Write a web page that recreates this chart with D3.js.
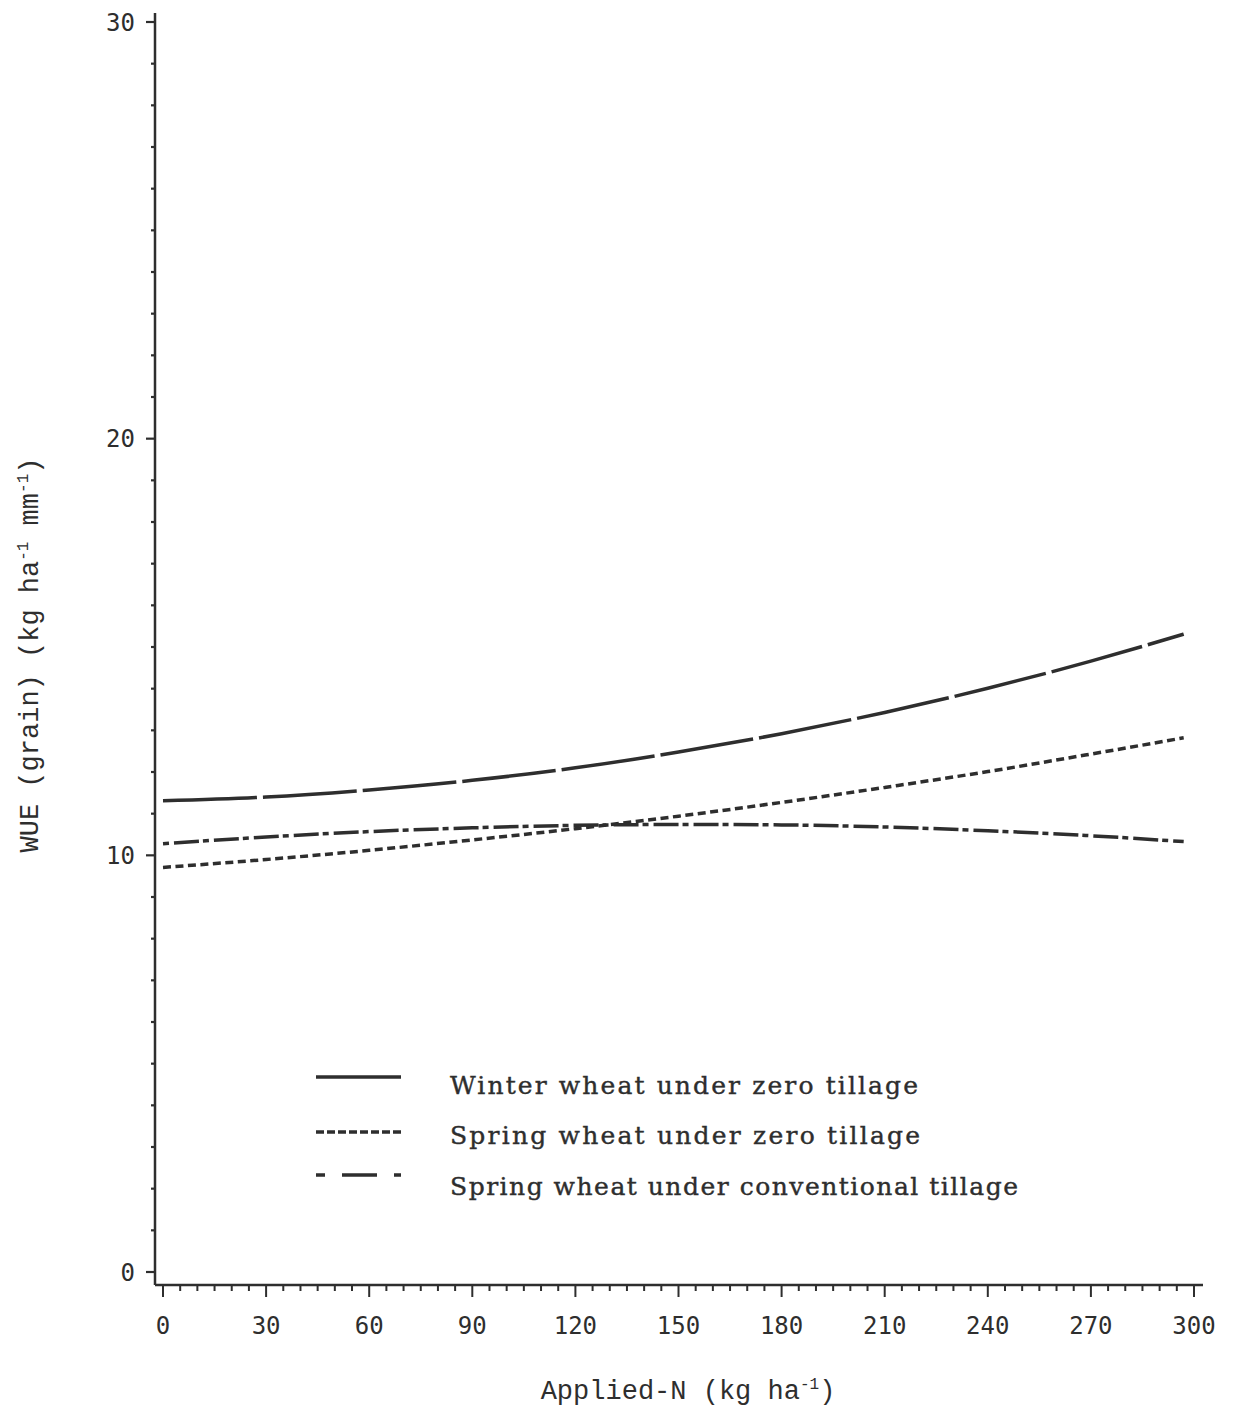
<!DOCTYPE html>
<html>
<head>
<meta charset="utf-8">
<script src="https://cdn.jsdelivr.net/npm/d3@7/dist/d3.min.js"></script>
<style>
  html, body { margin: 0; padding: 0; background: #fff; }
  svg { display: block; }
</style>
</head>
<body>
<svg id="chart" width="1233" height="1406"></svg>
<script>
// ---- data ----
const appliedN = [0, 30, 60, 90, 120, 150, 180, 210, 240, 270, 297];
const winterZero = [11.31, 11.40, 11.57, 11.80, 12.10, 12.48, 12.92, 13.43, 14.01, 14.66, 15.31];
const springZero = [9.71, 9.90, 10.12, 10.37, 10.64, 10.94, 11.27, 11.63, 12.01, 12.43, 12.82];
const springConv = [10.28, 10.44, 10.57, 10.66, 10.72, 10.74, 10.73, 10.68, 10.59, 10.47, 10.33];
const xTicks = [0, 30, 60, 90, 120, 150, 180, 210, 240, 270, 300];
const xTickLabels = ["0", "30", "60", "90", "120", "150", "180", "210", "240", "270", "300"];
const yTicks = [0, 10, 20, 30];
const yTickLabels = ["0", "10", "20", "30"];
const legendLabels = [
  "Winter wheat under zero tillage",
  "Spring wheat under zero tillage",
  "Spring wheat under conventional tillage"
];

const svg = d3.select("#chart");
const ink = "#2e2e2e";

const x = d3.scaleLinear().domain([0, 300]).range([163, 1194]);
const y = d3.scaleLinear().domain([0, 30]).range([1272, 22]);

// ---- axes ----
const axisX = 155, axisY = 1285;
svg.append("line").attr("x1", axisX).attr("x2", axisX).attr("y1", 13).attr("y2", axisY)
  .attr("stroke", ink).attr("stroke-width", 2.5);
svg.append("line").attr("x1", axisX).attr("x2", 1203).attr("y1", axisY).attr("y2", axisY)
  .attr("stroke", ink).attr("stroke-width", 2.5);

// y ticks (minor every 1, major every 10)
const yMinor = d3.range(0, 31, 1);
svg.append("g").selectAll("line").data(yMinor).join("line")
  .attr("x1", axisX).attr("x2", d => yTicks.includes(d) ? axisX - 9 : axisX - 4)
  .attr("y1", d => y(d)).attr("y2", d => y(d))
  .attr("stroke", ink).attr("stroke-width", 2.2);
svg.append("g").selectAll("text").data(yTicks).join("text")
  .attr("x", 135).attr("y", d => y(d)).attr("dy", "0.36em")
  .attr("text-anchor", "end")
  .attr("font-family", "DejaVu Sans Mono").attr("font-size", 24).attr("fill", ink)
  .text((d, i) => yTickLabels[i]);

// x ticks (minor every 5, major every 30)
const xMinor = d3.range(0, 301, 5);
svg.append("g").selectAll("line").data(xMinor).join("line")
  .attr("x1", d => x(d)).attr("x2", d => x(d))
  .attr("y1", axisY).attr("y2", d => xTicks.includes(d) ? axisY + 12 : axisY + 6)
  .attr("stroke", ink).attr("stroke-width", 2);
svg.append("g").selectAll("text").data(xTicks).join("text")
  .attr("x", d => x(d)).attr("y", 1334)
  .attr("text-anchor", "middle")
  .attr("font-family", "DejaVu Sans Mono").attr("font-size", 24).attr("fill", ink)
  .text((d, i) => xTickLabels[i]);

// axis titles
const xt = svg.append("text").attr("x", 688).attr("y", 1399).attr("text-anchor", "middle")
  .attr("font-family", "Liberation Mono").attr("font-size", 27).attr("fill", ink);
xt.append("tspan").text("Applied-N (kg ha");
xt.append("tspan").attr("font-size", 16).attr("dy", -10).text("-1");
xt.append("tspan").attr("dy", 10).text(")");

const yt = svg.append("text").attr("transform", "translate(38,655) rotate(-90)")
  .attr("text-anchor", "middle")
  .attr("font-family", "Liberation Mono").attr("font-size", 27).attr("fill", ink);
yt.append("tspan").text("WUE (grain) (kg ha");
yt.append("tspan").attr("font-size", 16).attr("dy", -10).text("-1");
yt.append("tspan").attr("dy", 10).text(" mm");
yt.append("tspan").attr("font-size", 16).attr("dy", -10).text("-1");
yt.append("tspan").attr("dy", 10).text(")");

// ---- series ----
const series = [
  { values: winterZero, dash: "94,6" },
  { values: springZero, dash: "8,4.5" },
  { values: springConv, dash: "6,5,25,4" }
];
const line = d3.line().x(d => x(d[0])).y(d => y(d[1])).curve(d3.curveMonotoneX);
series.forEach(s => {
  svg.append("path")
    .datum(appliedN.map((n, i) => [n, s.values[i]]))
    .attr("d", line)
    .attr("fill", "none").attr("stroke", ink).attr("stroke-width", 3.5)
    .attr("stroke-dasharray", s.dash);
});

// ---- legend ----
const legendDash = ["none", "8,3", "9,17,35,17,9"];
const legendLineY = [1077, 1132, 1175];
const legendTextY = [1094, 1144, 1195];
const legendTextLen = [468, 470, 568];
legendLabels.forEach((lab, i) => {
  svg.append("line").attr("x1", 316).attr("x2", 401)
    .attr("y1", legendLineY[i]).attr("y2", legendLineY[i])
    .attr("stroke", ink).attr("stroke-width", 3.5)
    .attr("stroke-dasharray", legendDash[i]);
  svg.append("text").attr("x", 450).attr("y", legendTextY[i])
    .attr("font-family", "DejaVu Serif").attr("font-size", 25).attr("fill", ink)
    .attr("stroke", ink).attr("stroke-width", 0.4)
    .attr("textLength", legendTextLen[i]).attr("lengthAdjust", "spacing")
    .text(lab);
});
</script>
</body>
</html>
